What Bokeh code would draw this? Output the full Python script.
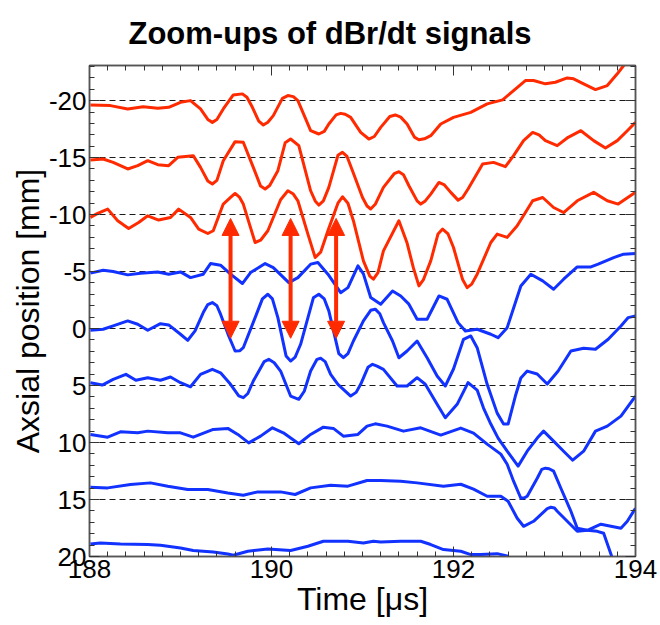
from bokeh.plotting import figure
from bokeh.models import (Range1d, FixedTicker, LinearAxis, Arrow, NormalHead,
                          CustomLabelingPolicy)
from bokeh.embed import file_html
from bokeh.resources import INLINE

TITLE = "Zoom-ups of dBr/dt signals"
X_LABEL = "Time [μs]"
Y_LABEL = "Axsial position [mm]"

x_major = [188, 190, 192, 194]
y_major = [-20, -15, -10, -5, 0, 5, 10, 15, 20]

# ---- traces: time [us] and displayed axial position [mm] ----
t_m20 = [188.01, 188.23, 188.42, 188.59, 188.75, 188.87, 189.00, 189.11, 189.22, 189.30,
         189.35, 189.40, 189.47, 189.58, 189.68, 189.73, 189.79, 189.86, 189.91, 189.96,
         190.02, 190.12, 190.18, 190.24, 190.29, 190.43, 190.52, 190.58, 190.63, 190.71,
         190.76, 190.81, 190.87, 190.98, 191.07, 191.13, 191.20, 191.30, 191.36, 191.42,
         191.49, 191.57, 191.62, 191.68, 191.75, 191.86, 192.00, 192.19, 192.37, 192.54,
         192.66, 192.79, 192.88, 193.01, 193.12, 193.25, 193.32, 193.43, 193.56, 193.69,
         193.80, 193.87, 193.95]
y_m20 = [-19.62, -19.56, -19.27, -19.47, -19.32, -19.41, -19.85, -20.0, -19.27, -18.35,
         -18.09, -18.35, -19.27, -20.50, -20.59, -20.3, -19.41, -18.2, -17.86, -18.1,
         -18.68, -20.2, -20.44, -20.35, -20.0, -17.36, -17.07, -17.3, -17.95, -18.75,
         -18.88, -18.8, -18.53, -17.21, -16.63, -16.85, -17.65, -18.6, -18.74, -18.55,
         -17.95, -16.8, -16.57, -16.65, -16.92, -17.95, -18.53, -18.97, -19.71, -20.06,
         -20.88, -21.76, -21.76, -21.47, -21.61, -21.99, -21.91, -21.47, -20.97, -21.32,
         -22.35, -23.08, -24.2]

t_m15 = [188.01, 188.15, 188.26, 188.42, 188.53, 188.64, 188.75, 188.87, 188.97, 189.14,
         189.22, 189.30, 189.35, 189.40, 189.47, 189.60, 189.69, 189.80, 189.88, 189.93,
         189.98, 190.07, 190.15, 190.21, 190.30, 190.43, 190.48, 190.52, 190.57, 190.63,
         190.73, 190.78, 190.83, 190.89, 191.00, 191.05, 191.09, 191.14, 191.23, 191.35,
         191.40, 191.45, 191.51, 191.60, 191.64, 191.69, 191.75, 191.84, 191.90, 191.97,
         192.05, 192.10, 192.16, 192.32, 192.44, 192.57, 192.66, 192.77, 192.87, 192.94,
         193.01, 193.14, 193.26, 193.40, 193.54, 193.67, 193.80, 193.91, 194.00]
y_m15 = [-14.79, -14.88, -14.58, -14.00, -14.29, -14.73, -14.38, -14.29, -15.02, -15.17,
         -14.14, -12.95, -12.68, -13.0, -14.73, -16.40, -16.34, -14.14, -12.5, -12.24,
         -12.55, -13.85, -16.3, -16.63, -16.05, -12.09, -11.2, -10.83, -11.2, -12.39,
         -15.2, -15.46, -15.1, -13.85, -11.50, -10.75, -10.49, -10.9, -12.39, -13.6,
         -13.76, -13.5, -12.53, -11.2, -10.92, -11.2, -11.80, -12.82, -12.6, -11.95,
         -11.27, -11.5, -12.25, -14.44, -14.58, -14.20, -15.17, -16.49, -17.21, -17.0,
         -16.49, -16.05, -16.78, -17.36, -16.49, -15.84, -16.49, -17.36, -18.09]

t_m10 = [188.01, 188.09, 188.20, 188.31, 188.43, 188.54, 188.64, 188.76, 188.89, 188.98,
         189.11, 189.20, 189.30, 189.36, 189.47, 189.55, 189.60, 189.65, 189.69, 189.82,
         189.88, 189.96, 190.10, 190.18, 190.24, 190.29, 190.40, 190.48, 190.54, 190.62,
         190.73, 190.78, 190.84, 190.90, 191.01, 191.08, 191.12, 191.17, 191.23, 191.40,
         191.49, 191.56, 191.62, 191.67, 191.75, 191.83, 191.88, 191.94, 192.00, 192.10,
         192.15, 192.20, 192.26, 192.41, 192.48, 192.59, 192.70, 192.87, 192.98, 193.10,
         193.21, 193.36, 193.54, 193.69, 193.81, 194.00]
y_m10 = [-9.75, -10.10, -10.48, -9.46, -8.78, -9.31, -9.89, -9.52, -9.75, -10.48,
         -9.75, -8.73, -8.34, -8.58, -10.92, -11.5, -11.85, -11.5, -10.92, -7.55,
         -7.75, -8.58, -11.3, -12.09, -11.8, -11.21, -8.29, -6.23, -6.7, -8.58,
         -11.0, -11.56, -11.0, -9.46, -5.94, -4.6, -4.33, -4.9, -6.82, -9.46,
         -7.5, -5.3, -3.74, -4.3, -5.94, -8.3, -8.73, -8.3, -7.11, -4.3,
         -3.59, -3.9, -4.77, -7.55, -8.29, -8.00, -9.02, -11.21, -11.50, -10.62,
         -10.18, -11.21, -11.95, -11.21, -10.92, -11.95]

t_m5 = [188.01, 188.15, 188.26, 188.42, 188.56, 188.75, 188.87, 189.00, 189.11, 189.25,
        189.33, 189.44, 189.55, 189.68, 189.77, 189.93, 190.02, 190.19, 190.29, 190.43,
        190.51, 190.62, 190.76, 190.84, 190.95, 191.01, 191.09, 191.20, 191.33, 191.42,
        191.51, 191.60, 191.71, 191.84, 191.93, 192.05, 192.13, 192.26, 192.41, 192.49,
        192.59, 192.74, 192.85, 192.98, 193.10, 193.21, 193.36, 193.51, 193.59, 193.76,
        193.87, 194.00]
y_m5 = [-4.86, -5.12, -5.00, -4.71, -4.86, -4.97, -4.77, -4.97, -4.47, -4.77,
        -5.70, -5.56, -4.77, -3.95, -4.91, -5.70, -5.35, -4.03, -4.47, -5.65,
        -5.79, -4.77, -3.15, -3.59, -5.50, -4.80, -2.72, -2.14, -3.30, -2.86,
        -2.14, -0.82, -0.82, -2.86, -2.57, -0.52, 0.21, 0.06, 0.50, 0.80,
        -0.08, -3.74, -4.77, -4.18, -3.45, -4.33, -5.41, -5.41, -5.65, -6.23,
        -6.53, -6.58]

t_0 = [188.01, 188.15, 188.26, 188.42, 188.53, 188.64, 188.78, 188.87, 189.00, 189.08,
       189.16, 189.25, 189.30, 189.35, 189.40, 189.44, 189.53, 189.60, 189.65, 189.69,
       189.82, 189.90, 189.96, 190.01, 190.07, 190.16, 190.21, 190.26, 190.32, 190.46,
       190.52, 190.58, 190.63, 190.74, 190.79, 190.84, 190.90, 191.01, 191.09, 191.14,
       191.19, 191.23, 191.33, 191.40, 191.49, 191.60, 191.71, 191.82, 191.91, 192.00,
       192.11, 192.19, 192.26, 192.37, 192.48, 192.55, 192.60, 192.68, 192.74, 192.81,
       192.92, 193.03, 193.15, 193.29, 193.43, 193.56, 193.70, 193.84, 193.92, 194.00]
y_0 = [0.15, 0.06, -0.23, -0.67, -0.38, 0.15, -0.43, -0.32, 0.50, 1.03,
       0.21, -1.40, -2.1, -2.28, -2.0, -1.26, 0.65, 1.97, 1.95, 1.68,
       -0.96, -2.6, -3.01, -2.6, -0.96, 2.4, 2.85, 2.5, 1.38, -2.7,
       -3.01, -2.6, -1.55, 2.2, 2.56, 2.2, 1.09, -0.67, -1.6, -1.70,
       -1.3, -0.52, 1.09, 2.56, 1.97, 1.09, 2.56, 4.17, 5.04, 3.55,
       0.94, 0.65, 1.68, 4.89, 7.42, 8.38, 8.38, 5.92, 4.34, 3.73,
       3.99, 4.87, 3.73, 1.97, 1.73, 1.82, 0.94, -0.23, -0.96, -1.11]

t_5 = [188.01, 188.14, 188.26, 188.40, 188.51, 188.64, 188.78, 188.89, 189.00, 189.11,
       189.22, 189.35, 189.44, 189.55, 189.64, 189.69, 189.74, 189.80, 189.92, 189.97,
       190.03, 190.10, 190.21, 190.30, 190.36, 190.43, 190.50, 190.54, 190.59, 190.65,
       190.73, 190.87, 190.93, 190.98, 191.06, 191.11, 191.16, 191.23, 191.38, 191.49,
       191.60, 191.69, 191.82, 191.91, 192.04, 192.16, 192.26, 192.33, 192.41, 192.49,
       192.59, 192.71, 192.81, 192.92, 192.99, 193.10, 193.21, 193.31, 193.43, 193.56,
       193.69, 193.84, 194.00]
y_5 = [4.75, 4.96, 4.46, 4.02, 4.54, 4.31, 4.54, 4.25, 4.75, 5.11,
       4.02, 3.58, 3.88, 4.89, 5.9, 6.07, 5.7, 4.60, 2.9, 2.70,
       3.0, 3.73, 5.92, 6.21, 5.5, 3.73, 2.7, 2.61, 2.9, 4.02,
       4.89, 5.92, 5.6, 4.89, 3.4, 3.14, 3.3, 3.58, 5.04, 5.04,
       4.31, 4.89, 6.65, 7.83, 6.65, 4.75, 5.40, 6.98, 8.38, 9.61,
       10.76, 12.07, 10.76, 9.61, 9.00, 9.88, 10.76, 11.55, 10.76, 9.00,
       8.56, 7.68, 5.92]

t_10 = [188.01, 188.20, 188.34, 188.53, 188.64, 188.86, 189.00, 189.14, 189.36, 189.52,
        189.63, 189.75, 189.88, 190.01, 190.13, 190.30, 190.43, 190.57, 190.68, 190.79,
        190.95, 191.05, 191.14, 191.27, 191.45, 191.64, 191.86, 192.08, 192.22, 192.37,
        192.52, 192.59, 192.66, 192.74, 192.78, 192.81, 192.92, 192.97, 193.01, 193.05,
        193.10, 193.18, 193.29, 193.36, 193.47, 193.58, 193.65, 193.75, 193.89]
y_10 = [9.29, 9.53, 9.06, 9.15, 9.00, 9.15, 9.15, 9.53, 8.85, 8.76,
        9.29, 10.03, 9.44, 8.71, 9.15, 10.11, 9.29, 8.65, 8.76, 9.44,
        9.29, 8.56, 8.36, 8.56, 9.00, 8.71, 9.35, 8.73, 9.17, 10.14,
        11.02, 11.90, 13.39, 14.89, 14.85, 14.71, 13.13, 12.35, 12.25, 12.3,
        12.51, 14.01, 16.03, 17.52, 17.70, 17.79, 17.96, 20.25, 22.18]

t_15 = [188.01, 188.20, 188.45, 188.67, 188.86, 189.08, 189.30, 189.52, 189.69, 189.85,
        190.10, 190.26, 190.43, 190.65, 190.84, 191.05, 191.20, 191.42, 191.60, 191.89,
        192.08, 192.22, 192.37, 192.52, 192.60, 192.70, 192.77, 192.88, 193.03, 193.07,
        193.11, 193.14, 193.25, 193.36, 193.47, 193.62, 193.73, 193.84, 193.91, 194.00]
y_15 = [13.92, 13.98, 13.68, 13.54, 13.83, 14.12, 14.12, 14.42, 14.62, 14.33,
        14.33, 14.56, 13.98, 13.74, 13.83, 13.33, 13.33, 13.39, 13.54, 13.83,
        13.66, 14.09, 14.71, 14.71, 15.15, 16.64, 17.35, 16.91, 15.8, 15.68,
        15.75, 16.03, 16.91, 17.79, 17.70, 17.17, 17.35, 17.52, 16.91, 15.76]

t_20 = [188.01, 188.12, 188.34, 188.64, 188.78, 189.00, 189.14, 189.36, 189.52, 189.58,
        189.74, 189.96, 190.21, 190.40, 190.57, 190.84, 191.01, 191.12, 191.20, 191.42,
        191.64, 191.75, 191.89, 192.08, 192.19, 192.30, 192.48, 192.60]
y_20 = [18.90, 18.81, 18.90, 18.95, 19.02, 19.25, 19.48, 19.60, 19.78, 19.89,
        19.54, 19.34, 19.48, 19.10, 18.66, 18.66, 18.81, 18.66, 18.72, 18.66,
        18.66, 18.95, 19.39, 19.54, 19.83, 19.83, 19.75, 19.98]

# double-headed arrows
arrow_t = [189.55, 190.21, 190.71]
arrow_top = -9.66
arrow_bottom = 0.85

RED = "#ff2a00"
BLUE = "#1232ff"
FONT = "Liberation Sans"

p = figure(width=660, height=625, output_backend="svg", toolbar_location=None,
           x_range=Range1d(188, 194), y_range=Range1d(20, -23.08),
           min_border_left=89, min_border_right=25, min_border_top=65,
           min_border_bottom=69, title=TITLE)
p.title.text_font = FONT
p.title.text_font_size = "31px"
p.title.text_font_style = "bold"
p.title.text_color = "black"
p.title.align = "left"
p.title.offset = 39
p.title.standoff = 21
p.background_fill_color = "white"
p.border_fill_color = "white"
p.outline_line_color = "#555555"
p.outline_line_width = 1.5

x_minor = [188 + 0.2 * i for i in range(31)]
y_minor = list(range(-23, 21))

bottom_axis = p.below[0]
left_axis = p.left[0]
top_axis = LinearAxis()
right_axis = LinearAxis()
p.add_layout(top_axis, "above")
p.add_layout(right_axis, "right")

hide_all = CustomLabelingPolicy(code="""
    for (const i of indices) { indices.unset(i) }
    return indices
""")

for ax, is_x, lab in [(bottom_axis, True, True), (left_axis, False, True),
                      (top_axis, True, False), (right_axis, False, False)]:
    ax.ticker = FixedTicker(ticks=x_major if is_x else y_major,
                            minor_ticks=x_minor if is_x else y_minor)
    ax.major_tick_in = 10
    ax.major_tick_out = 0
    ax.minor_tick_in = 5
    ax.minor_tick_out = 0
    ax.axis_line_color = "#555555"
    ax.axis_line_width = 1.5
    ax.major_tick_line_color = "#333333"
    ax.minor_tick_line_color = "#333333"
    ax.major_label_text_font = FONT
    ax.major_label_text_color = "black"
    if lab:
        ax.major_label_text_font_size = "26px"
        ax.major_label_standoff = 3
    else:
        ax.major_label_text_font_size = "1px"
        ax.major_label_policy = hide_all
        ax.major_label_standoff = 0

left_axis.major_label_overrides = {v: str(v) for v in y_major}
bottom_axis.major_label_overrides = {v: str(v) for v in x_major}

bottom_axis.axis_label = X_LABEL
left_axis.axis_label = Y_LABEL
for ax in (bottom_axis, left_axis):
    ax.axis_label_text_font = FONT
    ax.axis_label_text_font_size = "32px"
    ax.axis_label_text_font_style = "normal"
    ax.axis_label_text_color = "black"
    ax.axis_label_standoff = 0

p.xgrid.visible = False
p.ygrid.ticker = FixedTicker(ticks=y_major[:-1])
p.ygrid.grid_line_color = "#1a1a1a"
p.ygrid.grid_line_dash = "6 4"
p.ygrid.grid_line_width = 1

for t, y, c in [(t_m20, y_m20, RED), (t_m15, y_m15, RED), (t_m10, y_m10, RED),
                (t_m5, y_m5, BLUE), (t_0, y_0, BLUE), (t_5, y_5, BLUE),
                (t_10, y_10, BLUE), (t_15, y_15, BLUE), (t_20, y_20, BLUE)]:
    p.line(t, y, line_color=c, line_width=3, line_join="round")

for xa in arrow_t:
    p.add_layout(Arrow(x_start=xa, y_start=arrow_bottom, x_end=xa, y_end=arrow_top,
                       line_color=RED, line_width=4,
                       start=NormalHead(size=17, fill_color=RED, line_color=RED),
                       end=NormalHead(size=17, fill_color=RED, line_color=RED)))

open("out.html", "w").write(file_html(p, INLINE))
